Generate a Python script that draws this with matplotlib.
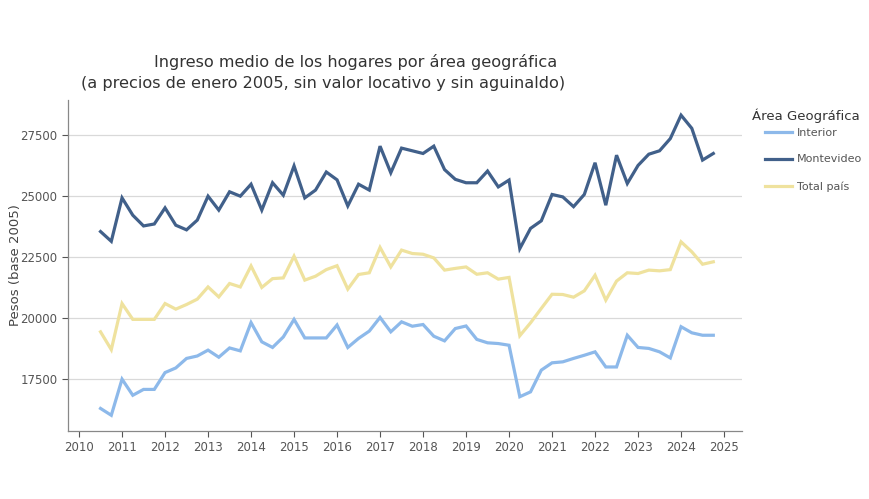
import numpy as np
import pandas as pd
import matplotlib
matplotlib.use("Agg")
import matplotlib.pyplot as plt

# trimestres 2010T3 .. 2024T4
trimestres = pd.period_range("2010Q3", "2024Q4", freq="Q")

interior = [16300, 16020, 17500, 16840, 17080, 17080, 17770, 17960, 18350, 18450, 18690, 18400,
            18780, 18660, 19820, 19030, 18800, 19230, 19950, 19190, 19190, 19190, 19720,
            18800, 19170, 19470, 20030, 19440, 19850, 19670, 19740, 19260, 19070, 19575,
            19680, 19130, 18990, 18960, 18890, 16780, 16980, 17870, 18170, 18210, 18350,
            18480, 18620, 18000, 18000, 19300, 18800, 18760, 18620, 18370, 19650, 19400, 19300, 19300]

montevideo = [23550, 23150, 24930, 24220, 23780, 23860, 24520, 23810, 23620, 24020, 25000, 24430,
              25180, 25000, 25490, 24430, 25550, 25040, 26240, 24930, 25250, 25990, 25670,
              24600, 25490, 25250, 27050, 25960, 26970, 26860, 26750, 27050, 26090, 25690,
              25550, 25550, 26030, 25380, 25660, 22850, 23680, 23990, 25070, 24970, 24570,
              25070, 26370, 24630, 26680, 25520, 26260, 26720, 26860, 27360, 28320, 27780, 26480, 26750]

total_pais = [19440, 18710, 20600, 19950, 19950, 19950, 20600, 20370, 20560, 20780, 21280, 20870,
              21420, 21280, 22140, 21260, 21620, 21650, 22540, 21560, 21720, 21990, 22150,
              21190, 21790, 21860, 22900, 22100, 22790, 22650, 22620, 22470, 21970, 22040,
              22100, 21800, 21860, 21600, 21670, 19280, 19810, 20400, 20980, 20970, 20860,
              21120, 21760, 20740, 21520, 21860, 21830, 21970, 21940, 21990, 23130, 22720, 22210, 22310]

series = {
    "Interior": (interior, "#8db9ea"),
    "Montevideo": (montevideo, "#41608a"),
    "Total país": (total_pais, "#efe29e"),
}

x = np.array([p.year + (p.quarter - 1) / 4 for p in trimestres])

fig = plt.figure(figsize=(8.7, 4.99), dpi=100)
ax = fig.add_axes([0.078, 0.136, 0.775, 0.664])

for nombre, (valores, color) in series.items():
    ax.plot(x, valores, color=color, linewidth=2.3, label=nombre, solid_joinstyle="miter")

ax.set_xlim(2009.74, 2025.42)
ax.set_ylim(15370, 28950)
ax.set_xticks(np.arange(2010, 2026))
ax.set_yticks([17500, 20000, 22500, 25000, 27500])
ax.tick_params(axis="both", labelsize=8.5, colors="#555555", length=4, width=0.8)
ax.tick_params(axis="x", pad=3)
ax.grid(axis="y", color="#d9d9d9", linewidth=0.9)
ax.set_axisbelow(True)
for lado in ["top", "right"]:
    ax.spines[lado].set_visible(False)
for lado in ["left", "bottom"]:
    ax.spines[lado].set_color("#888888")
    ax.spines[lado].set_linewidth(0.9)

ax.set_ylabel("Pesos (base 2005)", fontsize=9.5, color="#444444")
ax.yaxis.set_label_coords(-0.068, 0.5)

# titulo en dos lineas, cada una centrada por separado
fig.text(0.409, 0.876, "Ingreso medio de los hogares por área geográfica",
         ha="center", va="center", fontsize=11.6, color="#333333")
fig.text(0.371, 0.832, "(a precios de enero 2005, sin valor locativo y sin aguinaldo)",
         ha="center", va="center", fontsize=11.6, color="#333333")

# leyenda
fig.text(0.864, 0.7675, "Área Geográfica", ha="left", va="center", fontsize=9.5, color="#333333")
leg = ax.legend(loc="upper left", bbox_to_anchor=(0.868, 0.764), bbox_transform=fig.transFigure,
                frameon=False, fontsize=8, handlelength=2.4, handletextpad=0.45,
                labelspacing=1.5)
for t in leg.get_texts():
    t.set_color("#555555")

fig.savefig("out.png", dpi=100)
